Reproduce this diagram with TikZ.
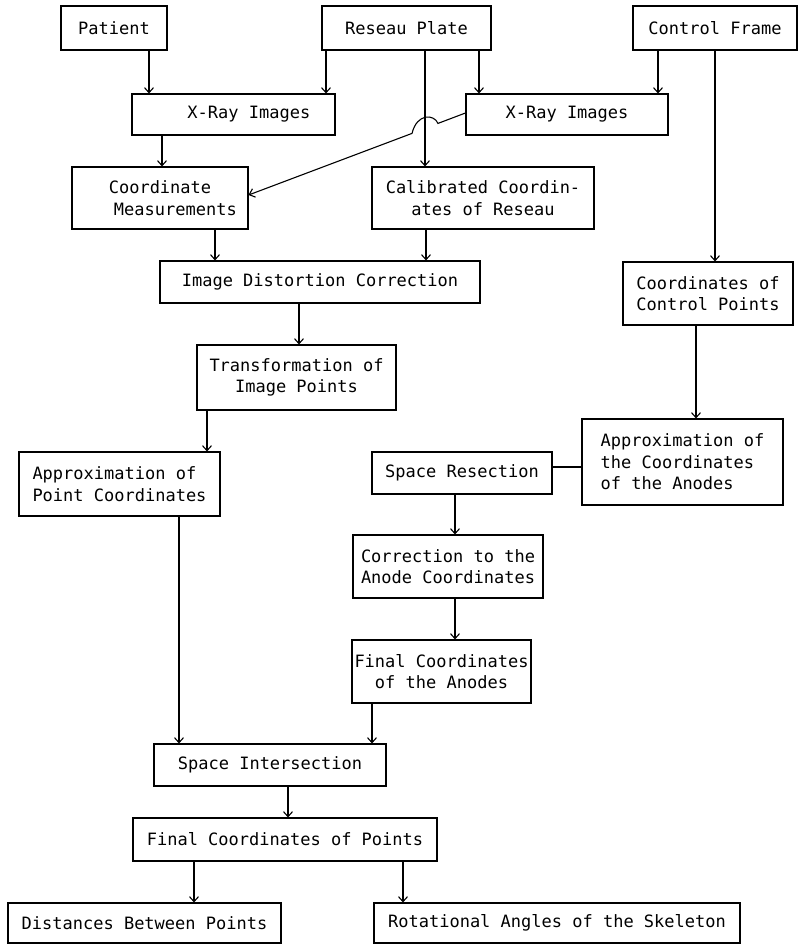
\documentclass[tikz,border=0pt]{standalone}
\usepackage{fontspec}
\setmonofont{DejaVu Sans Mono}
\usetikzlibrary{arrows.meta}
\tikzset{
  box/.style={draw, line width=1.1pt, inner sep=0pt, align=center,
    font=\ttfamily\fontsize{17}{21.5}\selectfont},
  arr/.style={-{Straight Barb[length=5pt,width=9pt]}, line width=1.1pt},
}

\begin{document}
\begin{tikzpicture}[x=1pt,y=-1pt]
\useasboundingbox (0,0) rectangle (800,944);

% top row
\node[box, minimum width=106pt, minimum height=44pt] (patient) at (114,28) {Patient};
\node[box, minimum width=169pt, minimum height=44pt] (reseau) at (406.5,28) {Reseau Plate};
\node[box, minimum width=164pt, minimum height=44pt] (control) at (715,28) {Control Frame};
\node[box, minimum width=203pt, minimum height=41pt] (xrayl) at (233.5,114.5) {\ \ \ X-Ray Images};
\node[box, minimum width=202pt, minimum height=41pt] (xrayr) at (567,114.5) {X-Ray Images};
\node[box, minimum width=176pt, minimum height=62pt] (measure) at (160,198) {Coordinate\\\phantom{Coo}Measurements};
\node[box, minimum width=222pt, minimum height=62pt] (calib) at (483,198) {Calibrated Coordin-\\ates of Reseau};
\node[box, minimum width=320pt, minimum height=42pt] (distort) at (320,282) {Image Distortion Correction};
\node[box, minimum width=199pt, minimum height=65pt] (transf) at (296.5,377.5) {Transformation of\\Image Points};
\node[box, minimum width=170pt, minimum height=63pt, align=left] (ctrlpts) at (708,293.5) {Coordinates of\\Control Points};
\node[box, minimum width=201pt, minimum height=86pt, align=left] (approxan) at (682.5,462) {Approximation of\\the Coordinates\\of the Anodes};
\node[box, minimum width=180pt, minimum height=42pt] (resect) at (462,473) {Space Resection};
\node[box, minimum width=201pt, minimum height=64pt, align=left] (approxpt) at (119.5,484) {Approximation of\\Point Coordinates};
\node[box, minimum width=190pt, minimum height=63pt, align=left] (correct) at (448,566.5) {Correction to the\\Anode Coordinates};
\node[box, minimum width=179pt, minimum height=63pt] (finalan) at (441.5,671.5) {Final Coordinates\\of the Anodes};
\node[box, minimum width=232pt, minimum height=42pt] (intersect) at (270,765) {Space Intersection};
\node[box, minimum width=304pt, minimum height=43pt] (finalpt) at (285,839.5) {Final Coordinates of Points};
\node[box, minimum width=273pt, minimum height=40pt] (dist) at (144.5,923) {Distances Between Points};
\node[box, minimum width=366pt, minimum height=40pt] (angles) at (557,923) {Rotational Angles of the Skeleton};

% connectors
\draw[arr] ([xshift=35pt]patient.south) -- ([xshift=35pt]patient.south |- xrayl.north);
\draw[arr] ([xshift=-80.5pt]reseau.south) -- ([xshift=-80.5pt]reseau.south |- xrayl.north);
\draw[arr] ([xshift=18.5pt]reseau.south) -- ([xshift=18.5pt]reseau.south |- calib.north);
\draw[arr] ([xshift=72.5pt]reseau.south) -- ([xshift=72.5pt]reseau.south |- xrayr.north);
\draw[arr] ([xshift=-57pt]control.south) -- ([xshift=-57pt]control.south |- xrayr.north);
\draw[arr] (control.south) -- (ctrlpts.north -| control.south);
\draw[arr] ([xshift=-71.5pt]xrayl.south) -- ([xshift=-71.5pt]xrayl.south |- measure.north);
% line hopping over the reseau line
\coordinate (hopa) at (438,123.4);
\coordinate (hopb) at (412,133.4);
\draw[arr] ([yshift=1.5pt]xrayr.west) -- (hopa) .. controls (434,114) and (417,113) .. (hopb)
  -- ([yshift=3pt]measure.east);
\draw[arr] ([xshift=55pt]measure.south) -- ([xshift=55pt]measure.south |- distort.north);
\draw[arr] ([xshift=-57pt]calib.south) -- ([xshift=-57pt]calib.south |- distort.north);
\draw[arr] ([xshift=-21pt]distort.south) -- ([xshift=-21pt]distort.south |- transf.north);
\draw[arr] ([xshift=-89.5pt]transf.south) -- ([xshift=-89.5pt]transf.south |- approxpt.north);
\draw[arr] ([xshift=-12pt]ctrlpts.south) -- ([xshift=-12pt]ctrlpts.south |- approxan.north);
\draw[line width=1.1pt] ([yshift=-5pt]approxan.west) -- ([yshift=-5pt]approxan.west -| resect.east);
\draw[arr] ([xshift=-7pt]resect.south) -- ([xshift=-7pt]resect.south |- correct.north);
\draw[arr] ([xshift=7pt]correct.south) -- ([xshift=7pt]correct.south |- finalan.north);
\draw[arr] ([xshift=59.5pt]approxpt.south) -- ([xshift=59.5pt]approxpt.south |- intersect.north);
\draw[arr] ([xshift=-69.5pt]finalan.south) -- ([xshift=-69.5pt]finalan.south |- intersect.north);
\draw[arr] ([xshift=18pt]intersect.south) -- ([xshift=18pt]intersect.south |- finalpt.north);
\draw[arr] ([xshift=-91pt]finalpt.south) -- ([xshift=-91pt]finalpt.south |- dist.north);
\draw[arr] ([xshift=118pt]finalpt.south) -- ([xshift=118pt]finalpt.south |- angles.north);
\end{tikzpicture}
\end{document}
